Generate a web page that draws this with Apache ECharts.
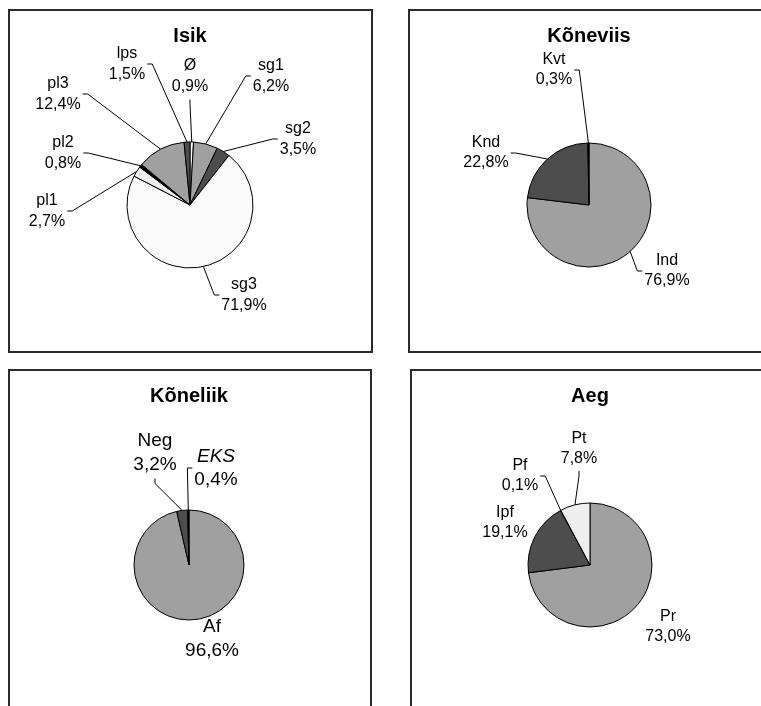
<!DOCTYPE html>
<html>
<head>
<meta charset="utf-8">
<script src="https://cdn.jsdelivr.net/npm/echarts@6.0.0/dist/echarts.min.js"></script>
<style>
  html, body { margin: 0; background: #fff; }
  #chart { width: 761px; height: 706px; }
</style>
</head>
<body>
<div id="chart"></div>
<script>
// andmed (protsendid)
const titles = ["Isik", "Kõneviis", "Kõneliik", "Aeg"];

const isikNames = ["Ø", "sg1", "sg2", "sg3", "pl1", "pl2", "pl3", "lps"];
const isikValues = [0.9, 6.2, 3.5, 71.9, 2.7, 0.8, 12.4, 1.5];

const koneviisNames = ["Ind", "Knd", "Kvt"];
const koneviisValues = [76.9, 22.8, 0.3];

const koneliikNames = ["Af", "Neg", "EKS"];
const koneliikValues = [96.6, 3.2, 0.4];

const aegNames = ["Pr", "Ipf", "Pf", "Pt"];
const aegValues = [73.0, 19.1, 0.1, 7.8];

const GRAY = "#a0a0a0";
const DARK = "#4d4d4d";
const LIGHT = "#eeeeee";
const WHITE = "#fafafa";
const BLACK = "#000000";
const FONT = "'Liberation Sans', Arial, sans-serif";
const TICK = 5;

// paneelide paigutus: keskpunkt, raadius, sildi nihe keskpunktist + joone kinnituskülg
const panels = [
  {
    title: titles[0], names: isikNames, values: isikValues,
    center: [190, 205], r: 63, fontSize: 16, lineHeight: 21.5, titleY: 36,
    colors: [WHITE, GRAY, DARK, WHITE, LIGHT, BLACK, GRAY, DARK],
    labels: [[0, -129, "b"], [81, -129, "l"], [108, -66, "l"], [54, 90, "l"],
             [-143, 6, "r"], [-127, -52, "r"], [-132, -111, "r"], [-63, -141, "r"]]
  },
  {
    title: titles[1], names: koneviisNames, values: koneviisValues,
    center: [589, 205], r: 62, fontSize: 16, lineHeight: 20, titleY: 36,
    colors: [GRAY, DARK, BLACK],
    labels: [[78, 66, "l"], [-103, -52, "r"], [-35, -135, "r"]]
  },
  {
    title: titles[2], names: koneliikNames, values: koneliikValues,
    center: [189, 565], r: 55, fontSize: 19, lineHeight: 23.5, titleY: 396,
    colors: [GRAY, DARK, BLACK], italic: ["EKS"],
    labels: [[23, 74, null], [-34, -112, "b"], [27, -97, "l"]]
  },
  {
    title: titles[3], names: aegNames, values: aegValues,
    center: [590, 565], r: 62, fontSize: 16, lineHeight: 20, titleY: 396,
    colors: [GRAY, DARK, BLACK, LIGHT],
    labels: [[78, 62, null], [-85, -42, null], [-70, -89, "r"], [-11, -116, "b"]]
  }
];

function fmt(v) {
  return v.toFixed(1).replace(".", ",") + "%";
}

function makeLabelLayout(p) {
  return function (params) {
    const pos = p.labels[params.dataIndex];
    const x = p.center[0] + pos[0];
    const y = p.center[1] + pos[1];
    const out = { x: x, y: y, align: "center", verticalAlign: "middle" };
    const pts = params.labelLinePoints;
    if (pts && pos[2]) {
      const w = params.labelRect.width / 2;
      const h = params.labelRect.height / 2;
      let end, mid;
      if (pos[2] === "l") {
        end = [x - w, y]; mid = [x - w - TICK, y];
      } else if (pos[2] === "r") {
        end = [x + w, y]; mid = [x + w + TICK, y];
      } else {
        end = [x, y + h]; mid = [x, y + h + TICK];
      }
      out.labelLinePoints = [pts[0], mid, end];
    }
    return out;
  };
}

function makeSeries(p) {
  const italic = p.italic || [];
  return {
    type: "pie",
    center: p.center,
    radius: p.r,
    startAngle: 90,
    clockwise: true,
    avoidLabelOverlap: false,
    animation: false,
    emphasis: { disabled: true },
    itemStyle: { borderColor: "#000", borderWidth: 1 },
    label: {
      show: true,
      position: "outside",
      fontFamily: FONT,
      fontSize: p.fontSize,
      lineHeight: p.lineHeight,
      color: "#000",
      padding: 2,
      formatter: function (params) {
        const name = italic.indexOf(params.name) >= 0 ? "{it|" + params.name + "}" : params.name;
        return name + "\n" + fmt(params.value);
      },
      rich: {
        it: {
          fontStyle: "italic",
          fontFamily: FONT,
          fontSize: p.fontSize,
          lineHeight: p.lineHeight,
          color: "#000"
        }
      }
    },
    labelLine: {
      show: true,
      length: 10,
      length2: TICK,
      lineStyle: { color: "#000", width: 1 }
    },
    labelLayout: makeLabelLayout(p),
    data: p.names.map(function (n, i) {
      return {
        name: n,
        value: p.values[i],
        itemStyle: { color: p.colors[i] },
        labelLine: { show: p.labels[i][2] != null }
      };
    })
  };
}

const borderStyle = { fill: "none", stroke: "#2b2b2b", lineWidth: 2 };

const chart = echarts.init(document.getElementById("chart"));
chart.setOption({
  backgroundColor: "#fff",
  graphic: [
    { type: "rect", z: 0, shape: { x: 9, y: 10, width: 363, height: 342 }, style: borderStyle },
    { type: "rect", z: 0, shape: { x: 409, y: 10, width: 400, height: 342 }, style: borderStyle },
    { type: "rect", z: 0, shape: { x: 9, y: 370, width: 362, height: 400 }, style: borderStyle },
    { type: "rect", z: 0, shape: { x: 411, y: 370, width: 400, height: 400 }, style: borderStyle }
  ].concat(panels.map(function (p) {
    return {
      type: "text",
      z: 10,
      x: p.center[0],
      y: p.titleY,
      style: {
        text: p.title,
        fontFamily: FONT,
        fontWeight: "bold",
        fontSize: 20,
        fill: "#000",
        align: "center",
        verticalAlign: "middle"
      }
    };
  })),
  series: panels.map(makeSeries)
});
</script>
</body>
</html>
